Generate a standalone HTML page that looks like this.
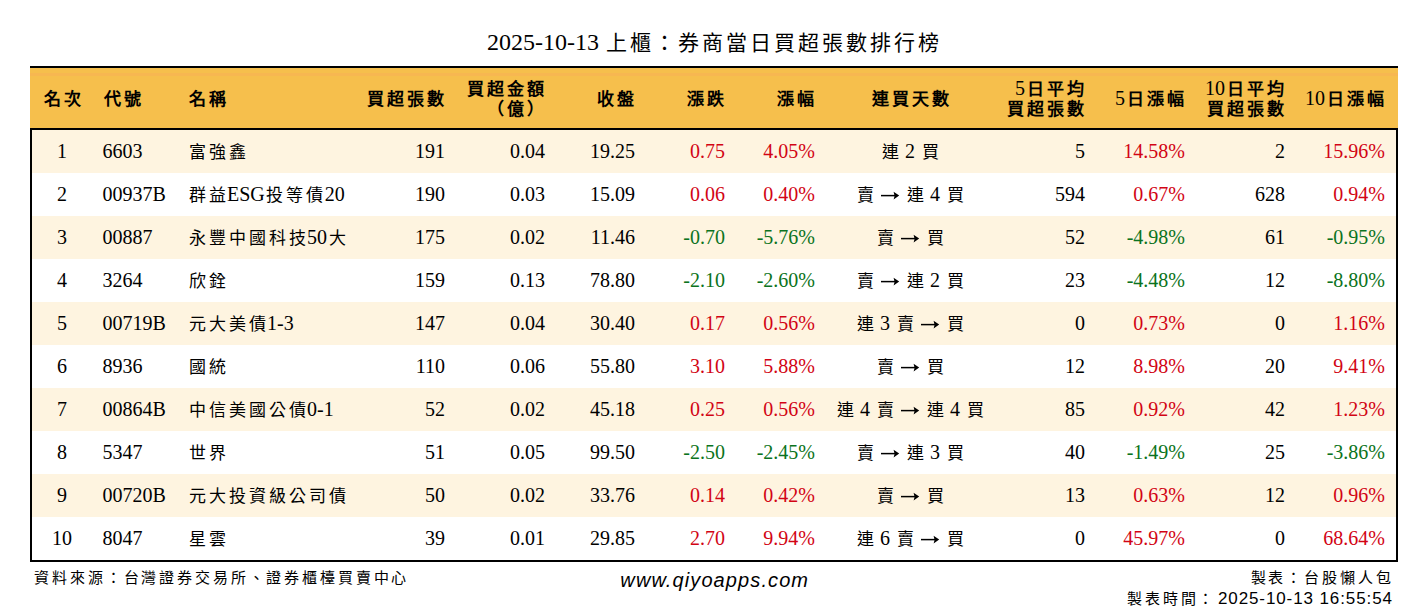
<!DOCTYPE html>
<html lang="zh-TW"><head><meta charset="utf-8">
<style>
*{margin:0;padding:0;box-sizing:border-box}
html,body{width:1428px;height:612px;overflow:hidden;background:#fff}
body{position:relative;font-family:"Liberation Serif",serif;color:#000}
.title{position:absolute;left:0;width:1428px;top:27px;height:30px;line-height:30px;text-align:center;font-size:24px;white-space:nowrap}
.kt{font-size:21px;letter-spacing:3px;margin-left:1.5px;margin-right:-1.5px}
.tbl{position:absolute;left:30px;top:66px;width:1368px;height:496px;border:2px solid #000;background:#fff}
.hd{position:absolute;left:30px;top:68px;width:1368px;height:62px;background:#F6BF4C;border-bottom:2px solid #000}
.hd .c{line-height:20px}
.kh{line-height:10px;font-size:17px;letter-spacing:3px;margin-left:1.5px;margin-right:-1.5px;font-weight:700}
.kd{font-size:17px;letter-spacing:3px;margin-left:1.5px;margin-right:-1.5px}
.row{position:absolute;left:32px;width:1364px;height:43px}
.odd{background:#FEF4E0}
.even{background:#FFFFFF}
.c{position:absolute;white-space:nowrap;font-size:20px}
.rw .c{top:0;height:43px;line-height:43px}
.red{color:#D20414}
.grn{color:#0B7320}
.ar{display:inline-block;vertical-align:baseline;position:relative;top:0}
.foot{position:absolute;font-family:"Liberation Sans",sans-serif;white-space:nowrap}
.kf{font-size:15px;letter-spacing:2.85px;margin-left:1.4px;margin-right:-1.4px}
</style></head><body>

<div class="title">2025-10-13 <span class="kt">上櫃：券商當日買超張數排行榜</span></div>
<div class="tbl"></div>
<div class="hd"><div style="position:absolute;left:0;right:0;top:5px;height:2.5px;background:#F7B751"></div>
<div class="c" style="left:-118px;width:300px;text-align:center;top:20px"><span class="kh">名次</span></div>
<div class="c" style="left:72.5px;text-align:left;top:20px"><span class="kh">代號</span></div>
<div class="c" style="left:157px;text-align:left;top:20px"><span class="kh">名稱</span></div>
<div class="c" style="right:953px;text-align:right;top:20px"><span class="kh">買超張數</span></div>
<div class="c" style="right:853px;text-align:right;top:10px"><span class="kh">買超金額</span><br><span class="kh">（億）</span></div>
<div class="c" style="right:763px;text-align:right;top:20px"><span class="kh">收盤</span></div>
<div class="c" style="right:673px;text-align:right;top:20px"><span class="kh">漲跌</span></div>
<div class="c" style="right:583px;text-align:right;top:20px"><span class="kh">漲幅</span></div>
<div class="c" style="left:730px;width:300px;text-align:center;top:20px"><span class="kh">連買天數</span></div>
<div class="c" style="right:313px;text-align:right;top:10px">5<span class="kh">日平均</span><br><span class="kh">買超張數</span></div>
<div class="c" style="right:213px;text-align:right;top:20px">5<span class="kh">日漲幅</span></div>
<div class="c" style="right:113px;text-align:right;top:10px">10<span class="kh">日平均</span><br><span class="kh">買超張數</span></div>
<div class="c" style="right:13px;text-align:right;top:20px">10<span class="kh">日漲幅</span></div>
</div>
<div class="row rw odd" style="top:130px">
<div class="c " style="left:-120px;width:300px;text-align:center">1</div>
<div class="c " style="left:70.5px;text-align:left">6603</div>
<div class="c " style="left:155px;text-align:left"><span class="kd">富強鑫</span></div>
<div class="c " style="right:951px;text-align:right">191</div>
<div class="c " style="right:851px;text-align:right">0.04</div>
<div class="c " style="right:761px;text-align:right">19.25</div>
<div class="c red" style="right:671px;text-align:right">0.75</div>
<div class="c red" style="right:581px;text-align:right">4.05%</div>
<div class="c " style="left:728px;width:300px;text-align:center"><span class="kd">連</span> 2 <span class="kd">買</span></div>
<div class="c " style="right:311px;text-align:right">5</div>
<div class="c red" style="right:211px;text-align:right">14.58%</div>
<div class="c " style="right:111px;text-align:right">2</div>
<div class="c red" style="right:11px;text-align:right">15.96%</div>
</div>
<div class="row rw even" style="top:173px">
<div class="c " style="left:-120px;width:300px;text-align:center">2</div>
<div class="c " style="left:70.5px;text-align:left">00937B</div>
<div class="c " style="left:155px;text-align:left"><span class="kd">群益</span>ESG<span class="kd">投等債</span>20</div>
<div class="c " style="right:951px;text-align:right">190</div>
<div class="c " style="right:851px;text-align:right">0.03</div>
<div class="c " style="right:761px;text-align:right">15.09</div>
<div class="c red" style="right:671px;text-align:right">0.06</div>
<div class="c red" style="right:581px;text-align:right">0.40%</div>
<div class="c " style="left:728px;width:300px;text-align:center"><span class="kd">賣</span> <svg class="ar" width="20" height="10" viewBox="0 0 20 10"><path d="M1 4.6H16" stroke="#000" stroke-width="1.5"/><path d="M19.2 4.6L13.6 0.7Q15.4 4.6 13.6 8.5Z" fill="#000"/></svg> <span class="kd">連</span> 4 <span class="kd">買</span></div>
<div class="c " style="right:311px;text-align:right">594</div>
<div class="c red" style="right:211px;text-align:right">0.67%</div>
<div class="c " style="right:111px;text-align:right">628</div>
<div class="c red" style="right:11px;text-align:right">0.94%</div>
</div>
<div class="row rw odd" style="top:216px">
<div class="c " style="left:-120px;width:300px;text-align:center">3</div>
<div class="c " style="left:70.5px;text-align:left">00887</div>
<div class="c " style="left:155px;text-align:left"><span class="kd">永豐中國科技</span>50<span class="kd">大</span></div>
<div class="c " style="right:951px;text-align:right">175</div>
<div class="c " style="right:851px;text-align:right">0.02</div>
<div class="c " style="right:761px;text-align:right">11.46</div>
<div class="c grn" style="right:671px;text-align:right">-0.70</div>
<div class="c grn" style="right:581px;text-align:right">-5.76%</div>
<div class="c " style="left:728px;width:300px;text-align:center"><span class="kd">賣</span> <svg class="ar" width="20" height="10" viewBox="0 0 20 10"><path d="M1 4.6H16" stroke="#000" stroke-width="1.5"/><path d="M19.2 4.6L13.6 0.7Q15.4 4.6 13.6 8.5Z" fill="#000"/></svg> <span class="kd">買</span></div>
<div class="c " style="right:311px;text-align:right">52</div>
<div class="c grn" style="right:211px;text-align:right">-4.98%</div>
<div class="c " style="right:111px;text-align:right">61</div>
<div class="c grn" style="right:11px;text-align:right">-0.95%</div>
</div>
<div class="row rw even" style="top:259px">
<div class="c " style="left:-120px;width:300px;text-align:center">4</div>
<div class="c " style="left:70.5px;text-align:left">3264</div>
<div class="c " style="left:155px;text-align:left"><span class="kd">欣銓</span></div>
<div class="c " style="right:951px;text-align:right">159</div>
<div class="c " style="right:851px;text-align:right">0.13</div>
<div class="c " style="right:761px;text-align:right">78.80</div>
<div class="c grn" style="right:671px;text-align:right">-2.10</div>
<div class="c grn" style="right:581px;text-align:right">-2.60%</div>
<div class="c " style="left:728px;width:300px;text-align:center"><span class="kd">賣</span> <svg class="ar" width="20" height="10" viewBox="0 0 20 10"><path d="M1 4.6H16" stroke="#000" stroke-width="1.5"/><path d="M19.2 4.6L13.6 0.7Q15.4 4.6 13.6 8.5Z" fill="#000"/></svg> <span class="kd">連</span> 2 <span class="kd">買</span></div>
<div class="c " style="right:311px;text-align:right">23</div>
<div class="c grn" style="right:211px;text-align:right">-4.48%</div>
<div class="c " style="right:111px;text-align:right">12</div>
<div class="c grn" style="right:11px;text-align:right">-8.80%</div>
</div>
<div class="row rw odd" style="top:302px">
<div class="c " style="left:-120px;width:300px;text-align:center">5</div>
<div class="c " style="left:70.5px;text-align:left">00719B</div>
<div class="c " style="left:155px;text-align:left"><span class="kd">元大美債</span>1-3</div>
<div class="c " style="right:951px;text-align:right">147</div>
<div class="c " style="right:851px;text-align:right">0.04</div>
<div class="c " style="right:761px;text-align:right">30.40</div>
<div class="c red" style="right:671px;text-align:right">0.17</div>
<div class="c red" style="right:581px;text-align:right">0.56%</div>
<div class="c " style="left:728px;width:300px;text-align:center"><span class="kd">連</span> 3 <span class="kd">賣</span> <svg class="ar" width="20" height="10" viewBox="0 0 20 10"><path d="M1 4.6H16" stroke="#000" stroke-width="1.5"/><path d="M19.2 4.6L13.6 0.7Q15.4 4.6 13.6 8.5Z" fill="#000"/></svg> <span class="kd">買</span></div>
<div class="c " style="right:311px;text-align:right">0</div>
<div class="c red" style="right:211px;text-align:right">0.73%</div>
<div class="c " style="right:111px;text-align:right">0</div>
<div class="c red" style="right:11px;text-align:right">1.16%</div>
</div>
<div class="row rw even" style="top:345px">
<div class="c " style="left:-120px;width:300px;text-align:center">6</div>
<div class="c " style="left:70.5px;text-align:left">8936</div>
<div class="c " style="left:155px;text-align:left"><span class="kd">國統</span></div>
<div class="c " style="right:951px;text-align:right">110</div>
<div class="c " style="right:851px;text-align:right">0.06</div>
<div class="c " style="right:761px;text-align:right">55.80</div>
<div class="c red" style="right:671px;text-align:right">3.10</div>
<div class="c red" style="right:581px;text-align:right">5.88%</div>
<div class="c " style="left:728px;width:300px;text-align:center"><span class="kd">賣</span> <svg class="ar" width="20" height="10" viewBox="0 0 20 10"><path d="M1 4.6H16" stroke="#000" stroke-width="1.5"/><path d="M19.2 4.6L13.6 0.7Q15.4 4.6 13.6 8.5Z" fill="#000"/></svg> <span class="kd">買</span></div>
<div class="c " style="right:311px;text-align:right">12</div>
<div class="c red" style="right:211px;text-align:right">8.98%</div>
<div class="c " style="right:111px;text-align:right">20</div>
<div class="c red" style="right:11px;text-align:right">9.41%</div>
</div>
<div class="row rw odd" style="top:388px">
<div class="c " style="left:-120px;width:300px;text-align:center">7</div>
<div class="c " style="left:70.5px;text-align:left">00864B</div>
<div class="c " style="left:155px;text-align:left"><span class="kd">中信美國公債</span>0-1</div>
<div class="c " style="right:951px;text-align:right">52</div>
<div class="c " style="right:851px;text-align:right">0.02</div>
<div class="c " style="right:761px;text-align:right">45.18</div>
<div class="c red" style="right:671px;text-align:right">0.25</div>
<div class="c red" style="right:581px;text-align:right">0.56%</div>
<div class="c " style="left:728px;width:300px;text-align:center"><span class="kd">連</span> 4 <span class="kd">賣</span> <svg class="ar" width="20" height="10" viewBox="0 0 20 10"><path d="M1 4.6H16" stroke="#000" stroke-width="1.5"/><path d="M19.2 4.6L13.6 0.7Q15.4 4.6 13.6 8.5Z" fill="#000"/></svg> <span class="kd">連</span> 4 <span class="kd">買</span></div>
<div class="c " style="right:311px;text-align:right">85</div>
<div class="c red" style="right:211px;text-align:right">0.92%</div>
<div class="c " style="right:111px;text-align:right">42</div>
<div class="c red" style="right:11px;text-align:right">1.23%</div>
</div>
<div class="row rw even" style="top:431px">
<div class="c " style="left:-120px;width:300px;text-align:center">8</div>
<div class="c " style="left:70.5px;text-align:left">5347</div>
<div class="c " style="left:155px;text-align:left"><span class="kd">世界</span></div>
<div class="c " style="right:951px;text-align:right">51</div>
<div class="c " style="right:851px;text-align:right">0.05</div>
<div class="c " style="right:761px;text-align:right">99.50</div>
<div class="c grn" style="right:671px;text-align:right">-2.50</div>
<div class="c grn" style="right:581px;text-align:right">-2.45%</div>
<div class="c " style="left:728px;width:300px;text-align:center"><span class="kd">賣</span> <svg class="ar" width="20" height="10" viewBox="0 0 20 10"><path d="M1 4.6H16" stroke="#000" stroke-width="1.5"/><path d="M19.2 4.6L13.6 0.7Q15.4 4.6 13.6 8.5Z" fill="#000"/></svg> <span class="kd">連</span> 3 <span class="kd">買</span></div>
<div class="c " style="right:311px;text-align:right">40</div>
<div class="c grn" style="right:211px;text-align:right">-1.49%</div>
<div class="c " style="right:111px;text-align:right">25</div>
<div class="c grn" style="right:11px;text-align:right">-3.86%</div>
</div>
<div class="row rw odd" style="top:474px">
<div class="c " style="left:-120px;width:300px;text-align:center">9</div>
<div class="c " style="left:70.5px;text-align:left">00720B</div>
<div class="c " style="left:155px;text-align:left"><span class="kd">元大投資級公司債</span></div>
<div class="c " style="right:951px;text-align:right">50</div>
<div class="c " style="right:851px;text-align:right">0.02</div>
<div class="c " style="right:761px;text-align:right">33.76</div>
<div class="c red" style="right:671px;text-align:right">0.14</div>
<div class="c red" style="right:581px;text-align:right">0.42%</div>
<div class="c " style="left:728px;width:300px;text-align:center"><span class="kd">賣</span> <svg class="ar" width="20" height="10" viewBox="0 0 20 10"><path d="M1 4.6H16" stroke="#000" stroke-width="1.5"/><path d="M19.2 4.6L13.6 0.7Q15.4 4.6 13.6 8.5Z" fill="#000"/></svg> <span class="kd">買</span></div>
<div class="c " style="right:311px;text-align:right">13</div>
<div class="c red" style="right:211px;text-align:right">0.63%</div>
<div class="c " style="right:111px;text-align:right">12</div>
<div class="c red" style="right:11px;text-align:right">0.96%</div>
</div>
<div class="row rw even" style="top:517px">
<div class="c " style="left:-120px;width:300px;text-align:center">10</div>
<div class="c " style="left:70.5px;text-align:left">8047</div>
<div class="c " style="left:155px;text-align:left"><span class="kd">星雲</span></div>
<div class="c " style="right:951px;text-align:right">39</div>
<div class="c " style="right:851px;text-align:right">0.01</div>
<div class="c " style="right:761px;text-align:right">29.85</div>
<div class="c red" style="right:671px;text-align:right">2.70</div>
<div class="c red" style="right:581px;text-align:right">9.94%</div>
<div class="c " style="left:728px;width:300px;text-align:center"><span class="kd">連</span> 6 <span class="kd">賣</span> <svg class="ar" width="20" height="10" viewBox="0 0 20 10"><path d="M1 4.6H16" stroke="#000" stroke-width="1.5"/><path d="M19.2 4.6L13.6 0.7Q15.4 4.6 13.6 8.5Z" fill="#000"/></svg> <span class="kd">買</span></div>
<div class="c " style="right:311px;text-align:right">0</div>
<div class="c red" style="right:211px;text-align:right">45.97%</div>
<div class="c " style="right:111px;text-align:right">0</div>
<div class="c red" style="right:11px;text-align:right">68.64%</div>
</div>
<div class="foot" style="left:33px;top:566px;font-size:18px;line-height:22px"><span class="kf">資料來源：台灣證券交易所、證券櫃檯買賣中心</span></div>
<div class="foot" style="left:0;width:1428px;text-align:center;top:568px;font-size:20px;line-height:24px;font-style:italic;letter-spacing:1.1px;padding-left:1.5px">www.qiyoapps.com</div>
<div class="foot" style="right:36px;top:566px;font-size:18px;line-height:22px;text-align:right"><span class="kf">製表：台股懶人包</span></div>
<div class="foot" style="right:36px;top:588px;font-size:17px;line-height:22px;text-align:right"><span class="kf">製表時間：</span><span style="letter-spacing:0.9px;margin-right:-0.9px;margin-left:3px">2025-10-13 16:55:54</span></div>
</body></html>
